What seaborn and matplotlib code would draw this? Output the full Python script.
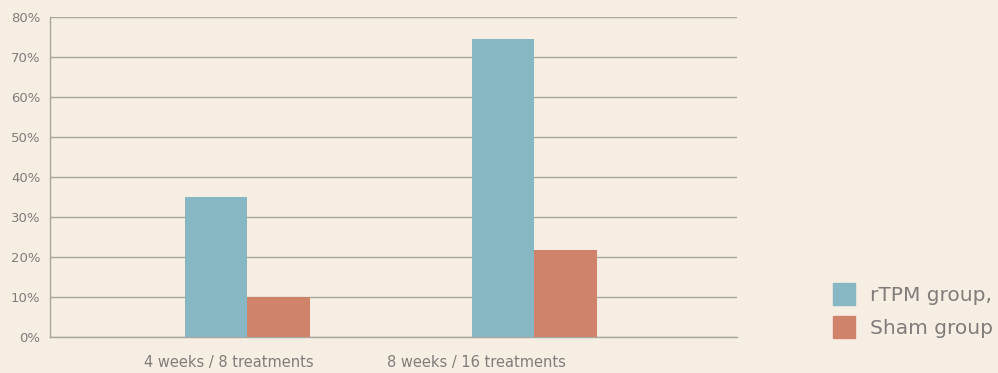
import matplotlib
matplotlib.use("Agg")
import matplotlib.pyplot as plt
import matplotlib.transforms as mtransforms
import seaborn as sns
import pandas as pd

# values
periods = ["4 weeks / 8 treatments", "8 weeks / 16 treatments"]
groups = ["rTPM group,", "Sham group"]
rtpm = [35, 74.5]
sham = [10, 21.8]

df = pd.DataFrame({
    "period": periods * 2,
    "group": [groups[0]] * 2 + [groups[1]] * 2,
    "value": rtpm + sham,
})

bg = "#F6EEE2"
grid = "#A9A59F"
text = "#7F7C7A"
palette = {groups[0]: "#87B7C2", groups[1]: "#CF836A"}

sns.set_theme(style="white")
plt.rcParams["font.family"] = ["DejaVu Sans"]

fig = plt.figure(figsize=(9.98, 3.73), dpi=100, facecolor=bg)
ax = fig.add_axes([0.0501, 0.0965, 0.6884, 0.858], facecolor=bg)

sns.barplot(data=df, x="period", y="value", hue="group", palette=palette,
            width=0.435, saturation=1, linewidth=0, ax=ax, legend=False, zorder=3)

ax.set_ylim(0, 80)
ax.set_xlim(-0.688, 1.706)
ax.set_yticks(range(0, 81, 10))
ax.set_yticklabels([f"{v}%" for v in range(0, 81, 10)])
ax.yaxis.grid(True, color=grid, linewidth=1.0, zorder=0)
ax.set_axisbelow(True)
ax.set_xlabel("")
ax.set_ylabel("")

for side in ["top", "right"]:
    ax.spines[side].set_visible(False)
for side in ["left", "bottom"]:
    ax.spines[side].set_color(grid)
    ax.spines[side].set_linewidth(1.0)

ax.tick_params(axis="y", length=0, pad=7, labelsize=9.5, labelcolor=text)
ax.tick_params(axis="x", length=0, pad=13, labelsize=10.5, labelcolor=text)

# x labels in the reference sit left of the bar groups
shifts = [-18.5, -57.5]
for lab, dx in zip(ax.get_xticklabels(), shifts):
    lab.set_transform(lab.get_transform() +
                      mtransforms.ScaledTranslation(dx / 100, 0, fig.dpi_scale_trans))

handles = [plt.Rectangle((0, 0), 1, 1, color=palette[g]) for g in groups]
leg = fig.legend(handles, groups, loc="center left", bbox_to_anchor=(0.835, 0.168),
                 frameon=False, fontsize=14.5, handlelength=1.1, handleheight=1.3,
                 handletextpad=0.7, labelspacing=0.55, labelcolor=text,
                 borderpad=0, borderaxespad=0)

fig.savefig("out.png", dpi=100, facecolor=bg)
